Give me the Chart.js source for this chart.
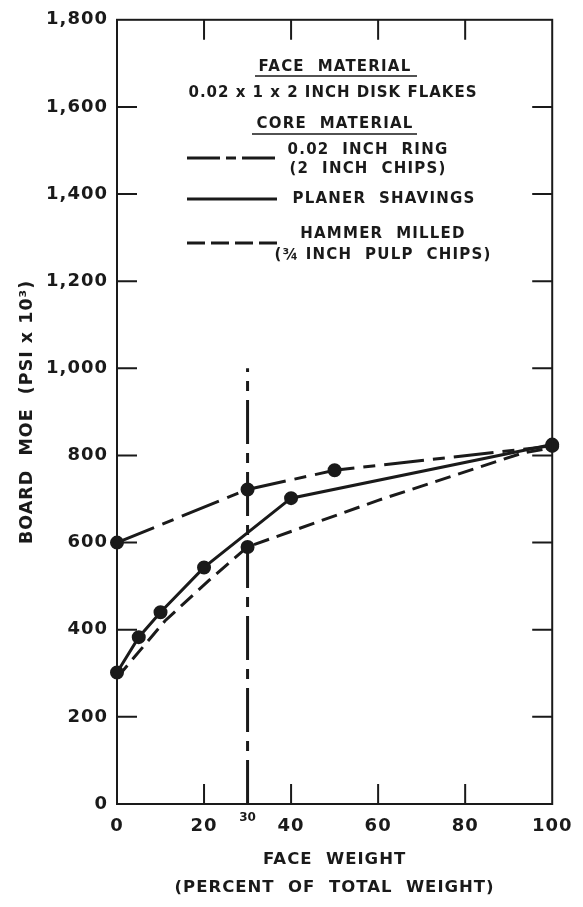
<!DOCTYPE html>
<html>
<head>
<meta charset="utf-8">
<title>Board MOE vs face weight</title>
<script src="https://cdn.jsdelivr.net/npm/chart.js@4/dist/chart.umd.min.js"></script>
<style>
  html, body { margin: 0; padding: 0; background: #fff; }
  canvas { display: block; }
</style>
</head>
<body>
<canvas id="moe-chart" width="583" height="907"></canvas>
<script>
// Face weight (percent of total weight) and board MOE (psi x 10^3) per core material
const ringWeight = [0, 30, 50, 100];
const ringMoe = [600, 722, 766, 822];

const planerWeight = [0, 5, 10, 20, 40, 100];
const planerMoe = [302, 383, 440, 543, 702, 825];

const hammerWeight = [0, 11, 21, 30, 60, 93, 100];
const hammerMoe = [290, 420, 512, 590, 697, 805, 818];
// only the measured points carry a dot
const hammerMarked = [false, false, false, true, false, false, false];

// 30 percent reference line
const refWeight = [30, 30];
const refMoe = [0, 1000];

const xTicks = [0, 20, 40, 60, 80, 100];
const yTicks = [0, 200, 400, 600, 800, 1000, 1200, 1400, 1600, 1800];

const INK = '#1a1a1a';
const FONT = "'DejaVu Sans', Verdana, sans-serif";

function toPoints(xs, ys) {
    return xs.map((x, i) => ({ x: x, y: ys[i] }));
}

function spaced(ctx, px) {
    if ('letterSpacing' in ctx) ctx.letterSpacing = px + 'px';
}

// Frame, inward tick marks, the small "30" label and the legend block
const framePlugin = {
    id: 'frame',
    beforeDraw(chart) {
        // slightly open lettering for the axis labels
        spaced(chart.ctx, 1);
    },
    afterDraw(chart) {
        const ctx = chart.ctx;
        const xs = chart.scales.x;
        const ys = chart.scales.y;
        const a = chart.chartArea;
        const tick = 20;

        ctx.save();
        ctx.strokeStyle = INK;
        ctx.lineWidth = 2;
        ctx.strokeRect(a.left, a.top, a.right - a.left, a.bottom - a.top);

        ctx.beginPath();
        xTicks.slice(1, -1).forEach(v => {
            const px = xs.getPixelForValue(v);
            ctx.moveTo(px, a.bottom);
            ctx.lineTo(px, a.bottom - tick);
            ctx.moveTo(px, a.top);
            ctx.lineTo(px, a.top + tick);
        });
        yTicks.slice(1, -1).forEach(v => {
            const py = ys.getPixelForValue(v);
            ctx.moveTo(a.left, py);
            ctx.lineTo(a.left + tick, py);
            ctx.moveTo(a.right, py);
            ctx.lineTo(a.right - tick, py);
        });
        ctx.stroke();

        // small label under the reference line
        ctx.fillStyle = INK;
        ctx.font = 'bold 12px ' + FONT;
        ctx.textAlign = 'center';
        ctx.textBaseline = 'middle';
        spaced(ctx, 0);
        ctx.fillText('30', xs.getPixelForValue(30), a.bottom + 14);

        drawLegend(ctx);
        ctx.restore();
    }
};

function drawLegend(ctx) {
    ctx.fillStyle = INK;
    ctx.strokeStyle = INK;
    ctx.textBaseline = 'middle';
    ctx.textAlign = 'center';
    ctx.font = 'bold 15px ' + FONT;

    spaced(ctx, 1.2);
    ctx.fillText('FACE  MATERIAL', 335, 67);
    spaced(ctx, 1);
    ctx.fillText('0.02 x 1 x 2 INCH DISK FLAKES', 333, 93);
    spaced(ctx, 1.2);
    ctx.fillText('CORE  MATERIAL', 335, 124);

    ctx.lineWidth = 1.5;
    ctx.beginPath();
    ctx.moveTo(255, 76); ctx.lineTo(417, 76);
    ctx.moveTo(252, 134); ctx.lineTo(417, 134);
    ctx.stroke();

    ctx.fillText('0.02  INCH  RING', 368, 150);
    ctx.fillText('(2  INCH  CHIPS)', 368, 169);
    ctx.fillText('PLANER  SHAVINGS', 384, 199);
    ctx.fillText('HAMMER  MILLED', 383, 234);
    ctx.fillText('(\u00BE INCH  PULP  CHIPS)', 383, 255);

    const samples = [
        { y: 158, dash: [33, 6, 10, 6] },
        { y: 199, dash: [] },
        { y: 243, dash: [18, 6] }
    ];
    ctx.lineWidth = 3;
    samples.forEach(s => {
        ctx.setLineDash(s.dash);
        ctx.beginPath();
        ctx.moveTo(187, s.y);
        ctx.lineTo(277, s.y);
        ctx.stroke();
    });
    ctx.setLineDash([]);
}

const commonLine = {
    borderColor: INK,
    backgroundColor: INK,
    pointBackgroundColor: INK,
    pointBorderColor: INK,
    borderWidth: 3,
    pointRadius: 5.5,
    pointHoverRadius: 5.5,
    fill: false,
    tension: 0,
    clip: false
};

const ctx = document.getElementById('moe-chart').getContext('2d');

new Chart(ctx, {
    type: 'line',
    data: {
        datasets: [
            Object.assign({}, commonLine, {
                label: '0.02 inch ring (2 inch chips)',
                data: toPoints(ringWeight, ringMoe),
                borderDash: [40, 9, 12, 9]
            }),
            Object.assign({}, commonLine, {
                label: 'Planer shavings',
                data: toPoints(planerWeight, planerMoe)
            }),
            Object.assign({}, commonLine, {
                label: 'Hammer milled (3/4 inch pulp chips)',
                data: toPoints(hammerWeight, hammerMoe),
                borderDash: [16, 8],
                pointRadius: hammerMarked.map(m => m ? 5.5 : 0)
            }),
            Object.assign({}, commonLine, {
                label: '30 percent',
                data: toPoints(refWeight, refMoe),
                borderDash: [44, 9, 10, 9],
                pointRadius: 0
            })
        ]
    },
    options: {
        responsive: false,
        animation: false,
        events: [],
        layout: {
            padding: { top: 19, right: 28, left: 0, bottom: 0 }
        },
        plugins: {
            legend: { display: false },
            tooltip: { enabled: false }
        },
        scales: {
            x: {
                type: 'linear',
                min: 0,
                max: 100,
                afterFit(scale) { scale.height = 103; },
                afterBuildTicks(scale) {
                    scale.ticks = xTicks.map(v => ({ value: v }));
                },
                border: { display: false },
                grid: { drawOnChartArea: false, drawTicks: false },
                ticks: {
                    color: INK,
                    padding: 12,
                    maxRotation: 0,
                    font: { family: FONT, size: 18, weight: 'bold' }
                },
                title: {
                    display: true,
                    text: ['FACE  WEIGHT', '(PERCENT  OF  TOTAL  WEIGHT)'],
                    color: INK,
                    padding: { top: 0, bottom: 5 },
                    font: { family: FONT, size: 16.5, weight: 'bold', lineHeight: 1.7 }
                }
            },
            y: {
                type: 'linear',
                min: 0,
                max: 1800,
                afterFit(scale) { scale.width = 117; },
                afterBuildTicks(scale) {
                    scale.ticks = yTicks.map(v => ({ value: v }));
                },
                border: { display: false },
                grid: { drawOnChartArea: false, drawTicks: false },
                ticks: {
                    color: INK,
                    padding: 9,
                    font: { family: FONT, size: 18, weight: 'bold' },
                    callback: v => v.toLocaleString('en-US')
                },
                title: {
                    display: true,
                    text: 'BOARD  MOE  (PSI x 10\u00B3)',
                    color: INK,
                    padding: { top: 17, bottom: 0 },
                    font: { family: FONT, size: 17.5, weight: 'bold' }
                }
            }
        }
    },
    plugins: [framePlugin]
});
</script>
</body>
</html>
